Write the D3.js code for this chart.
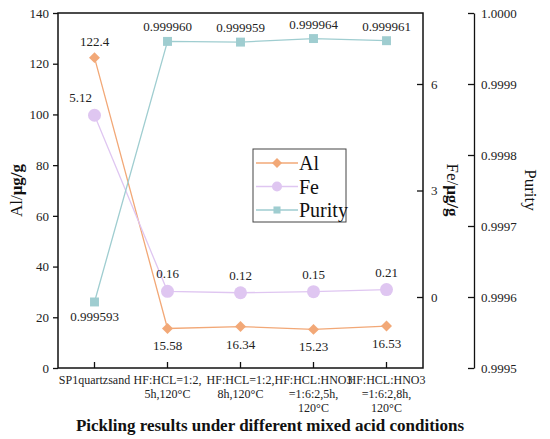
<!DOCTYPE html>
<html>
<head>
<meta charset="utf-8">
<script src="https://cdn.jsdelivr.net/npm/d3@7"></script>
<style>
  body { margin: 0; background: #fff; }
</style>
</head>
<body>
<div id="chart"></div>
<script>
var categories = ["SP1quartzsand", "HF:HCL=1:2,|5h,120°C", "HF:HCL=1:2,|8h,120°C",
                  "HF:HCL:HNO3|=1:6:2,5h,|120°C", "HF:HCL:HNO3|=1:6:2,8h,|120°C"];
var alValues = [122.4, 15.58, 16.34, 15.23, 16.53];
var feValues = [5.12, 0.16, 0.12, 0.15, 0.21];
var purityValues = [0.999593, 0.999960, 0.999959, 0.999964, 0.999961];
var alLabels = ["122.4", "15.58", "16.34", "15.23", "16.53"];
var feLabels = ["5.12", "0.16", "0.12", "0.15", "0.21"];
var purityLabels = ["0.999593", "0.999960", "0.999959", "0.999964", "0.999961"];
var alTicks = [0, 20, 40, 60, 80, 100, 120, 140];
var feTicks = [0, 3, 6];
var purityTicks = [0.9995, 0.9996, 0.9997, 0.9998, 0.9999, 1.0];

var width = 550, height = 439;
var pLeft = 58, pRight = 423, pTop = 13, pBottom = 368;
var purityX = 474;

var cAl = "#f2a877", cFe = "#dfc6f1", cPur = "#9fcdd0";

var svg = d3.select("#chart").append("svg").attr("width", width).attr("height", height);

var x = d3.scaleBand().domain(categories).range([pLeft, pRight]).padding(0);
var yAl = d3.scaleLinear().domain([0, 140]).range([pBottom, pTop]);
var yFe = d3.scaleLinear().domain([-2, 8]).range([pBottom, pTop]);
var yPur = d3.scaleLinear().domain([0.9995, 1.0]).range([pBottom, pTop]);
function cx(i) { return x(categories[i]) + x.bandwidth() / 2; }

// left axis
var gl = svg.append("g").attr("transform", "translate(" + pLeft + ",0)")
    .call(d3.axisLeft(yAl).tickValues(alTicks).tickSize(5).tickSizeOuter(0).tickPadding(4));
// right Fe axis (ticks inward)
var gr = svg.append("g").attr("transform", "translate(" + pRight + ",0)")
    .call(d3.axisRight(yFe).tickValues(feTicks).tickSize(-6).tickSizeOuter(0).tickPadding(8));
// bottom axis (ticks inward)
var gb = svg.append("g").attr("transform", "translate(0," + pBottom + ")")
    .call(d3.axisBottom(x).tickSize(-6).tickSizeOuter(0).tickFormat(""));
// purity axis
var gp = svg.append("g").attr("transform", "translate(" + purityX + ",0)")
    .call(d3.axisLeft(yPur).tickValues(purityTicks).tickSize(6).tickSizeOuter(0).tickFormat(d3.format(".4f")));
gp.selectAll(".tick text").attr("text-anchor", "start").attr("x", 7);

[gl, gr, gb, gp].forEach(function(g) {
  g.selectAll("text").style("font-size", "13px").attr("fill", "#222");
  g.selectAll("line, path").attr("stroke", "#111").attr("stroke-width", 1.3);
});
gb.select(".domain").remove();
gl.select(".domain").remove();
gr.select(".domain").remove();

// plot box
svg.append("rect").attr("x", pLeft).attr("y", pTop).attr("width", pRight - pLeft).attr("height", pBottom - pTop)
  .attr("fill", "none").attr("stroke", "#111").attr("stroke-width", 1.5);

// category labels
categories.forEach(function(c, i) {
  var t = svg.append("text").attr("x", cx(i)).attr("y", pBottom + 16).attr("text-anchor", "middle")
    .style("font-size", "12px").attr("fill", "#222");
  c.split("|").forEach(function(line, k) {
    t.append("tspan").attr("x", cx(i)).attr("dy", k == 0 ? 0 : 14).text(line);
  });
});

// lines
function drawLine(vals, y, color) {
  var line = d3.line().x(function(d, i) { return cx(i); }).y(function(d) { return y(d); });
  svg.append("path").datum(vals).attr("d", line).attr("fill", "none").attr("stroke", color).attr("stroke-width", 1.3);
}
drawLine(alValues, yAl, cAl);
drawLine(feValues, yFe, cFe);
drawLine(purityValues, yPur, cPur);

var square = d3.symbol().type(d3.symbolSquare).size(80);

svg.selectAll(".al").data(alValues).enter().append("path")
  .attr("d", d3.symbol().type(d3.symbolSquare).size(60))
  .attr("transform", function(d, i) { return "translate(" + cx(i) + "," + yAl(d) + ") rotate(45)"; })
  .attr("fill", cAl);
svg.selectAll(".fe").data(feValues).enter().append("circle")
  .attr("cx", function(d, i) { return cx(i); }).attr("cy", function(d) { return yFe(d); })
  .attr("r", 6.5).attr("fill", cFe);
svg.selectAll(".pur").data(purityValues).enter().append("path")
  .attr("d", square)
  .attr("transform", function(d, i) { return "translate(" + cx(i) + "," + yPur(d) + ")"; })
  .attr("fill", cPur);

// value labels
function labels(vals, y, texts, dyFn, dxFn) {
  vals.forEach(function(d, i) {
    svg.append("text").attr("x", cx(i) + dxFn(i)).attr("y", y(d) + dyFn(i))
      .attr("text-anchor", "middle").style("font-size", "13px").attr("fill", "#222").text(texts[i]);
  });
}
labels(alValues, yAl, alLabels, function(i) { return i == 0 ? -12 : 22; }, function() { return 0; });
labels(feValues, yFe, feLabels, function(i) { return -13; }, function(i) { return i == 0 ? -14 : 0; });
labels(purityValues, yPur, purityLabels, function(i) { return i == 0 ? 19 : -10; }, function() { return 0; });

// axis titles
var tl = svg.append("text").attr("transform", "translate(22," + ((pTop + pBottom) / 2) + ") rotate(-90)")
  .attr("text-anchor", "middle").style("font-size", "17px").attr("fill", "#111");
tl.append("tspan").text("Al/");
tl.append("tspan").style("font-weight", "bold").text("μg/g");

var tf = svg.append("text").attr("transform", "translate(447,190) rotate(90)")
  .attr("text-anchor", "middle").style("font-size", "17px").attr("fill", "#111");
tf.append("tspan").text("Fe/");
tf.append("tspan").style("font-weight", "bold").text("μg/g");

svg.append("text").attr("transform", "translate(525,190) rotate(90)")
  .attr("text-anchor", "middle").style("font-size", "17px").attr("fill", "#111").text("Purity");

svg.append("text").attr("x", 270).attr("y", 431).attr("text-anchor", "middle")
  .style("font-size", "17px").style("font-weight", "bold").attr("fill", "#111")
  .text("Pickling results under different mixed acid conditions");

// legend
var lg = svg.append("g").attr("transform", "translate(253,149)");
lg.append("rect").attr("width", 93).attr("height", 73).attr("fill", "#fff").attr("stroke", "#444").attr("stroke-width", 1);
var series = [{name: "Al", color: cAl, m: "d"}, {name: "Fe", color: cFe, m: "c"}, {name: "Purity", color: cPur, m: "s"}];
series.forEach(function(s, k) {
  var yy = 14 + k * 23.5;
  lg.append("line").attr("x1", 3).attr("x2", 45).attr("y1", yy).attr("y2", yy).attr("stroke", s.color).attr("stroke-width", 1.3);
  if (s.m == "d") {
    lg.append("path").attr("d", d3.symbol().type(d3.symbolSquare).size(50)).attr("transform", "translate(24," + yy + ") rotate(45)").attr("fill", s.color);
  } else if (s.m == "c") {
    lg.append("circle").attr("cx", 24).attr("cy", yy).attr("r", 5).attr("fill", s.color);
  } else {
    lg.append("path").attr("d", d3.symbol().type(d3.symbolSquare).size(50)).attr("transform", "translate(24," + yy + ")").attr("fill", s.color);
  }
  lg.append("text").attr("x", 46).attr("y", yy + 7).style("font-size", "20px").attr("fill", "#111").text(s.name);
});

// one serif face for every text
svg.selectAll("text").style("font-family", "Liberation Serif");
</script>
</body>
</html>
